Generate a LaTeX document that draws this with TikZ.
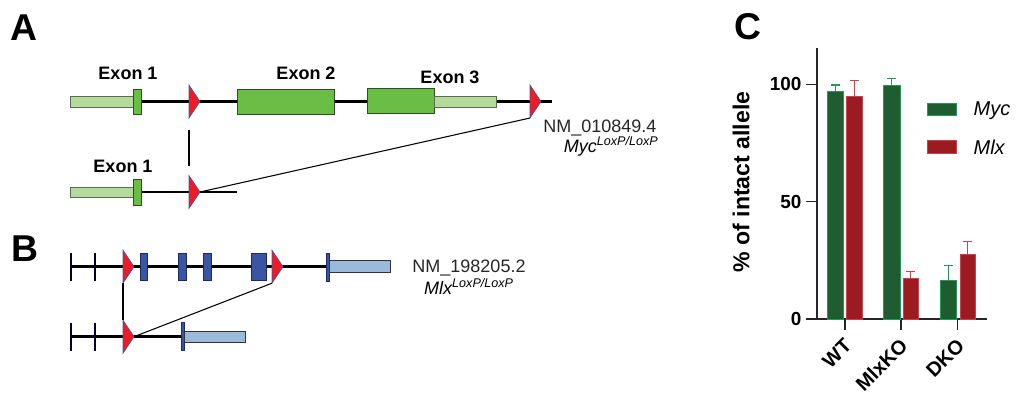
\documentclass[tikz,border=0pt]{standalone}
\usepackage{fontspec}
\setmainfont{Liberation Sans}
\usetikzlibrary{positioning}
\definecolor{utrGreen}{HTML}{B5DB9C}
\definecolor{exGreen}{HTML}{6ABD45}
\definecolor{exEdge}{HTML}{2E4A26}
\definecolor{loxRed}{HTML}{ED1C24}
\definecolor{loxBlue}{HTML}{3C5AA8}
\definecolor{exBlue}{HTML}{3A55A4}
\definecolor{exBlueEdge}{HTML}{1C2B5E}
\definecolor{utrBlue}{HTML}{9BBAD9}
\definecolor{mycFill}{HTML}{1F5C30}
\definecolor{mycEdge}{HTML}{22985A}
\definecolor{mlxFill}{HTML}{9C1B21}
\definecolor{mlxEdge}{HTML}{C4434D}
\tikzset{
    % loxP site: red triangle pointing right
    loxp/.pic={
        \path[fill=loxRed, draw=loxBlue, line width=0.5pt]
            (0,-16.5) -- (11,0) -- (0,16.5) -- cycle;
        \coordinate (-top) at (0,-16.5);
        \coordinate (-bot) at (0,16.5);
        \coordinate (-tip) at (11,0);
    }
}

\begin{document}
\begin{tikzpicture}[
  x=0.75pt, y=-0.75pt,
  backbone/.style={line width=2.1pt, black},
  link/.style={line width=0.8pt, black},
  gtick/.style={line width=1.8pt, draw=black!85!blue},
  exon/.style={draw=exEdge, line width=0.6pt, fill=exGreen},
  utr/.style={draw=exEdge!80, line width=0.6pt, fill=utrGreen},
  exonB/.style={draw=exBlueEdge, line width=0.6pt, fill=exBlue},
  utrB/.style={draw=black!80, line width=0.6pt, fill=utrBlue},
  panel/.style={font=\fontsize{28}{30}\selectfont\bfseries, inner sep=0pt},
  exlab/.style={font=\fontsize{13.5}{15}\selectfont\bfseries, inner sep=1pt},
  acc/.style={font=\fontsize{13.5}{15}\selectfont, text=black!85, inner sep=1pt},
  gene/.style={font=\fontsize{13.5}{15}\selectfont\itshape, inner sep=1pt},
  axis/.style={line width=1pt, black!85},
  ticklab/.style={font=\fontsize{14.2}{16}\selectfont\bfseries, inner sep=1pt},
  xlab/.style={font=\fontsize{15}{17}\selectfont\bfseries, inner sep=0pt,
               rotate=45, anchor=east},
  mycbar/.style={fill=mycFill, draw=mycEdge, line width=0.6pt},
  mlxbar/.style={fill=mlxFill, draw=mlxEdge, line width=0.6pt},
  mycerr/.style={draw=mycEdge, line width=0.9pt},
  mlxerr/.style={draw=mlxEdge, line width=0.9pt},
  legtext/.style={font=\fontsize{15}{17}\selectfont\itshape, inner sep=1pt}
]
\useasboundingbox (0,0) rectangle (1017,397);

% ===== A: Myc locus =====
\node[panel] (labA) at (24,28) {A};

% floxed allele
\draw[backbone] (110,101.5) -- (552,101.5);
\draw[utr] (70,96) rectangle (133,107);
\draw[exon] (133,89) rectangle (141,114);
\draw[exon] (237,89) rectangle (334,114);
\draw[exon] (367,88) rectangle (434,113);
\draw[utr] (434,96) rectangle (496,107);
\pic (loxA1) at (189,101.5) {loxp};
\pic (loxA2) at (530,101.5) {loxp};

\node[exlab] (exA1) at (128,73) {Exon 1};
\node[exlab] (exA2) at (306,73) {Exon 2};
\node[exlab] (exA3) at (450,77) {Exon 3};

% recombined allele
\draw[backbone] (110,192) -- (237,192);
\draw[utr] (70,187) rectangle (133,197);
\draw[exon] (133,179) rectangle (141,205);
\pic (loxA3) at (189,192) {loxp};
\node[exlab] (exA1d) at (123,166) {Exon 1};

\draw[link, shorten <=9pt, shorten >=7pt] (loxA1-bot) -- (loxA3-top);
\draw[link] (loxA3-tip) -- (loxA2-bot);

\node[acc, anchor=east] (accMyc) at (658,128) {NM\_010849.4};
\node[gene, anchor=east] (geneMyc) at (660,146) {Myc\textsuperscript{LoxP/LoxP}};

% ===== B: Mlx locus =====
\node[panel] (labB) at (25,249) {B};

% floxed allele
\draw[backbone] (70,266.7) -- (327,266.7);
\draw[gtick] (70.7,252.7) -- (70.7,280.7);
\draw[gtick] (95,252.7) -- (95,280.7);
\draw[exonB] (140,253) rectangle (147,280);
\draw[exonB] (178,253) rectangle (186,280);
\draw[exonB] (203,253) rectangle (211,280);
\draw[exonB] (251,253) rectangle (266,280);
\draw[exonB] (326,253) rectangle (329,281);
\draw[utrB] (329,260) rectangle (390,272);
\pic (loxB1) at (123,266.7) {loxp};
\pic (loxB2) at (272,266.7) {loxp};

% recombined allele
\draw[backbone] (70,336.7) -- (182,336.7);
\draw[gtick] (70.7,322.7) -- (70.7,350.7);
\draw[gtick] (95,322.7) -- (95,350.7);
\draw[exonB] (181,322.5) rectangle (184,350);
\draw[utrB] (184,331) rectangle (245,342);
\pic (loxB3) at (123,336.7) {loxp};

\draw[link] (loxB1-bot) -- (loxB3-top);
\draw[link] (loxB3-tip) -- (loxB2-bot);

\node[acc] (accMlx) at (469,268) {NM\_198205.2};
\node[gene] (geneMlx) at (469,286) {Mlx\textsuperscript{LoxP/LoxP}};

% ===== C: allele quantification =====
\node[panel] (labC) at (748,27) {C};

\node[font=\fontsize{17.3}{19}\selectfont\bfseries, rotate=90, inner sep=1pt]
      (ytitle) at (741,182) {\% of intact allele};

\begin{scope}[shift={(817,319)}, y=1.76pt]
  % axes and ticks
  \draw[axis] (0,115.5) -- (0,0) -- (170,0);
  \draw[axis] (0,0) -- (-11,0);
  \draw[axis] (0,50) -- (-11,50);
  \draw[axis] (0,100) -- (-11,100);
  \draw[axis] (28,0) -- (28,-4.7);
  \draw[axis] (84,0) -- (84,-4.7);
  \draw[axis] (140.7,0) -- (140.7,-4.7);
  \node[ticklab, anchor=east] (y0)   at (-14,0)   {0};
  \node[ticklab, anchor=east] (y50)  at (-14,50)  {50};
  \node[ticklab, anchor=east] (y100) at (-14,100) {100};

  % WT
  \draw[mycbar] (10.3,0) rectangle (26.3,97);
  \draw[mlxbar] (29.7,0) rectangle (45.3,95);
  \draw[mycerr] (18.3,97) -- (18.3,99.7) (13.8,99.7) -- (22.8,99.7);
  \draw[mlxerr] (37.5,95) -- (37.5,101.7) (33,101.7) -- (42,101.7);

  % MlxKO
  \draw[mycbar] (66.3,0) rectangle (83,99.6);
  \draw[mlxbar] (86,0) rectangle (101.3,17.3);
  \draw[mycerr] (74.7,99.6) -- (74.7,102.4) (70.2,102.4) -- (79.2,102.4);
  \draw[mlxerr] (93.7,17.3) -- (93.7,20.2) (89.2,20.2) -- (98.2,20.2);

  % DKO
  \draw[mycbar] (123,0) rectangle (139.7,16.3);
  \draw[mlxbar] (143,0) rectangle (158.7,27.7);
  \draw[mycerr] (131.3,16.3) -- (131.3,22.7) (126.8,22.7) -- (135.8,22.7);
  \draw[mlxerr] (150.8,27.7) -- (150.8,33.1) (146.3,33.1) -- (155.3,33.1);
\end{scope}

\node[xlab] (xWT)    at (848,342) {WT};
\node[xlab] (xMlxKO) at (904,342) {MlxKO};
\node[xlab] (xDKO)   at (961,342) {DKO};

% legend
\draw[mycbar] (927,103) rectangle (956,115);
\draw[mlxbar] (927,140) rectangle (956,153);
\node[legtext, anchor=west] (legMyc) at (972,111) {Myc};
\node[legtext, anchor=west] (legMlx) at (972,147) {Mlx};

\end{tikzpicture}
\end{document}
